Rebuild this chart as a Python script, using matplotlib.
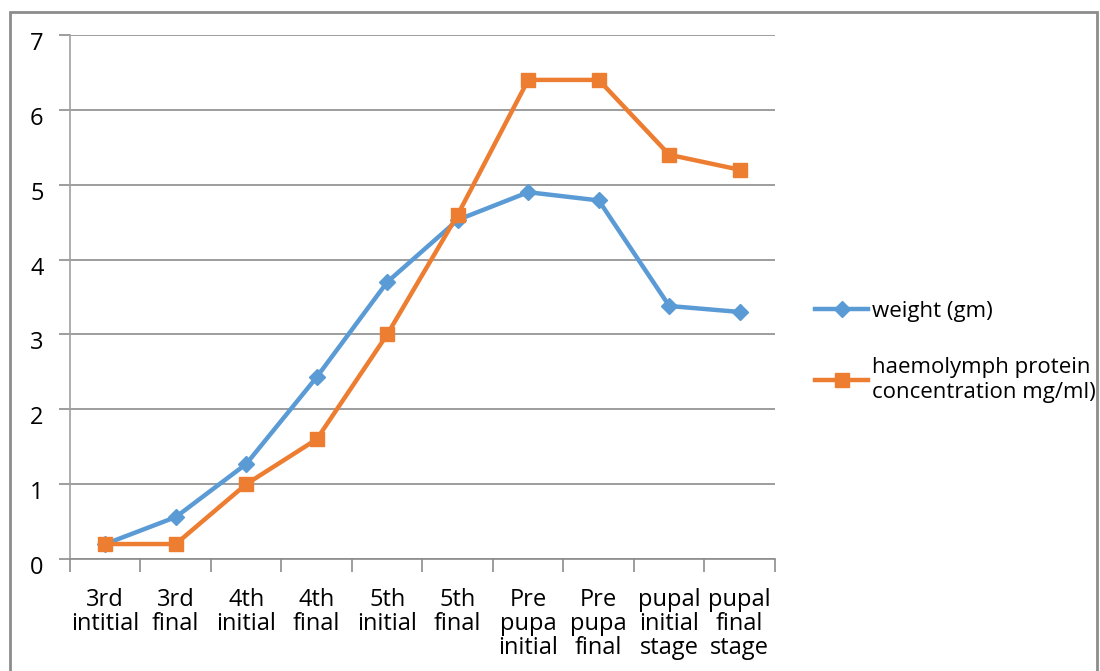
import matplotlib.pyplot as plt
from matplotlib.patches import Rectangle
from matplotlib.transforms import ScaledTranslation
import numpy as np

plt.rcParams['font.family'] = ['Open Sans', 'DejaVu Sans']
plt.rcParams['font.size'] = 17

stages = ['3rd\nintitial', '3rd\nfinal', '4th\ninitial', '4th\nfinal', '5th\ninitial',
          '5th\nfinal', 'Pre\npupa\ninitial', 'Pre\npupa\nfinal', 'pupal\ninitial\nstage',
          'pupal\nfinal\nstage']
weight = [0.2, 0.56, 1.27, 2.43, 3.7, 4.53, 4.9, 4.79, 3.38, 3.3]
protein = [0.2, 0.2, 1.0, 1.6, 3.0, 4.6, 6.4, 6.4, 5.4, 5.2]

fig = plt.figure(figsize=(11, 6.71), dpi=100)
ax = fig.add_axes([70 / 1100, 112 / 671, 705 / 1100, 524 / 671])

x = np.arange(len(stages))
ax.plot(x, weight, color='#5B9BD5', lw=3.2, marker='D', ms=8, label='weight (gm)')
ax.plot(x, protein, color='#ED7D31', lw=3.2, marker='s', ms=10,
        label='haemolymph protein\nconcentration mg/ml)')

ax.set_xlim(-0.5, len(stages) - 0.5)
ax.set_ylim(0, 7)
ax.set_yticks(range(8))
ax.grid(axis='y', color='#8c8c8c', lw=1.2)
ax.set_axisbelow(True)

ax.set_xticks(np.arange(-0.5, len(stages)))
ax.set_xticklabels([])
ax.set_xticks(x, minor=True)
ax.set_xticklabels(stages, minor=True, linespacing=1.0)
ax.tick_params(axis='x', which='major', length=9, color='#8c8c8c', width=1.2)
ax.tick_params(axis='x', which='minor', length=0, pad=21)
ax.tick_params(axis='y', length=8, color='#8c8c8c', width=1.2, pad=11)

# excel draws the y labels a little below their gridlines
shift = ScaledTranslation(0, -6 / 100, fig.dpi_scale_trans)
for lab in ax.get_yticklabels():
    lab.set_transform(lab.get_transform() + shift)

for s in ['top', 'right']:
    ax.spines[s].set_visible(False)
ax.spines['left'].set_color('#a0a0a0')
ax.spines['bottom'].set_color('#8c8c8c')
ax.spines['left'].set_linewidth(1.2)
ax.spines['bottom'].set_linewidth(1.2)

fig.legend(loc='upper left', bbox_to_anchor=(806 / 1100, 1 - 292 / 671), frameon=False,
           fontsize=16, handlelength=2.4, handletextpad=0.15, labelspacing=1.6,
           borderaxespad=0)

fig.patches.append(Rectangle((10 / 1100, -0.1), 1087 / 1100, 1.1 - 12 / 671,
                             transform=fig.transFigure, fill=False,
                             edgecolor='#8c8c8c', lw=2))

fig.savefig('out.png', dpi=100)
